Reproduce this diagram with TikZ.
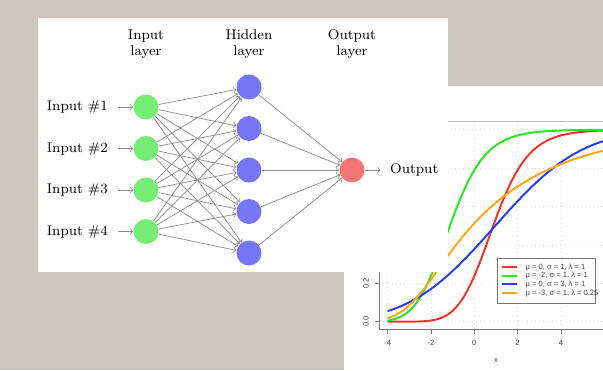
\documentclass[tikz,border=0pt]{standalone}
\usepackage{tikz}
\usepackage{xcolor}
\usepackage{amsmath}
\usepackage{fontspec}
\newfontfamily\plotfont{Liberation Sans}

\definecolor{bgtaupe}{RGB}{205,198,191}
\definecolor{nnin}{RGB}{118,238,118}
\definecolor{nnhid}{RGB}{118,118,245}
\definecolor{nnout}{RGB}{243,118,118}
\definecolor{edgegray}{RGB}{140,140,140}
\definecolor{gridgray}{RGB}{215,215,215}
\definecolor{axisgray}{RGB}{120,120,120}
\definecolor{framegray}{RGB}{190,190,190}
\definecolor{plotred}{RGB}{245,50,35}
\definecolor{plotgreen}{RGB}{40,230,30}
\definecolor{plotblue}{RGB}{35,60,250}
\definecolor{plotorange}{RGB}{255,165,20}

\pgfmathdeclarefunction{erfcs}{1}{%
	\begingroup
	\pgfmathsetmacro\myt{1/(1+0.5*#1)}%
	\pgfmathparse{\myt*exp(-1.26551223+\myt*(1.00002368+\myt*(0.37409196+\myt*(0.09678418+\myt*(-0.18628806+\myt*(0.27886807+\myt*(-1.13520398+\myt*(1.48851587+\myt*(-0.82215223+\myt*0.17087277)))))))))}%
	\pgfmathsmuggle\pgfmathresult
	\endgroup}
\pgfmathdeclarefunction{Phi}{1}{%
	\begingroup
	\pgfmathsetmacro\myq{#1}%
	\pgfmathsetmacro\myr{0.5*exp(max(-11,-0.5*(\myq)*(\myq)))*erfcs(abs(\myq)*0.70710678)}%
	\ifdim\myq pt<0pt\relax
		\pgfmathparse{\myr}%
	\else
		\pgfmathparse{1-\myr}%
	\fi
	\pgfmathsmuggle\pgfmathresult
	\endgroup}
\pgfmathdeclarefunction{emgcdf}{4}{%
	\begingroup
	\pgfmathsetmacro\myz{((#1)-(#2))/(#3)}%
	\pgfmathsetmacro\myv{(#4)*(#3)}%
	\pgfmathsetmacro\myw{\myv-(\myz)}%
	\pgfmathsetmacro\myk{0.5*exp(max(-11,-0.5*(\myz)*(\myz)))*erfcs(abs(\myw)*0.70710678)}%
	\ifdim\myw pt<0pt\relax
		\pgfmathsetmacro\myk{exp(max(-11,(\myv)*(0.5*(\myv)-(\myz))))-\myk}%
	\fi
	\pgfmathparse{Phi(\myz)-\myk}%
	\pgfmathsmuggle\pgfmathresult
	\endgroup}

\begin{document}
\begin{tikzpicture}[x=0.02cm, y=0.02cm]
	\tikzstyle{every node}+=[font=\footnotesize]
	\tikzstyle{inneuron}=[circle, fill=nnin, minimum size=0.5cm, inner sep=0pt]
	\tikzstyle{hidneuron}=[circle, fill=nnhid, minimum size=0.5cm, inner sep=0pt]
	\tikzstyle{outneuron}=[circle, fill=nnout, minimum size=0.5cm, inner sep=0pt]
	\tikzstyle{conn}=[->, draw=edgegray]
	\tikzstyle{curve}=[line width=1.1pt]
	\tikzstyle{plottext}=[font=\fontsize{4.3}{5}\plotfont, text=black!75]
	\fill [bgtaupe] (0,0) rectangle (603,-370);
	\useasboundingbox (0,0) rectangle (603,-370);
	\fill [white] (344,-86) rectangle (603,-370);
	\draw [gridgray, dotted] (379,-321.7) -- (603,-321.7);
	\draw [gridgray, dotted] (379,-283.3) -- (603,-283.3);
	\draw [gridgray, dotted] (379,-244.9) -- (603,-244.9);
	\draw [gridgray, dotted] (379,-206.5) -- (603,-206.5);
	\draw [gridgray, dotted] (379,-168.1) -- (603,-168.1);
	\draw [gridgray, dotted] (379,-129.7) -- (603,-129.7);
	\draw [gridgray, dotted] (387.7,-121.5) -- (387.7,-329);
	\draw [gridgray, dotted] (431,-121.5) -- (431,-329);
	\draw [gridgray, dotted] (474.3,-121.5) -- (474.3,-329);
	\draw [gridgray, dotted] (517.6,-121.5) -- (517.6,-329);
	\draw [gridgray, dotted] (560.9,-121.5) -- (560.9,-329);
	\draw [plotred, curve] plot [domain=-4:5.95, samples=90] ({474.3+21.65*\x},{-321.7+192*emgcdf(\x,0,1,1)});
	\draw [plotgreen, curve] plot [domain=-4:5.95, samples=90] ({474.3+21.65*\x},{-321.7+192*emgcdf(\x,-2,1,1)});
	\draw [plotblue, curve] plot [domain=-4:5.95, samples=90] ({474.3+21.65*\x},{-321.7+192*emgcdf(\x,0,3,1)});
	\draw [plotorange, curve] plot [domain=-4:5.95, samples=90] ({474.3+21.65*\x},{-321.7+192*emgcdf(\x,-3,1,0.25)});
	\draw [framegray, line width=0.7pt] (379,-121.5) -- (613,-121.5);
	\draw [axisgray] (379,-121.5) -- (379,-329) -- (613,-329);
	\draw [axisgray] (387.7,-329) -- (387.7,-333.5);
	\draw [axisgray] (431,-329) -- (431,-333.5);
	\draw [axisgray] (474.3,-329) -- (474.3,-333.5);
	\draw [axisgray] (517.6,-329) -- (517.6,-333.5);
	\draw [axisgray] (560.9,-329) -- (560.9,-333.5);
	\draw [axisgray] (379,-321.7) -- (374.5,-321.7);
	\draw [axisgray] (379,-283.3) -- (374.5,-283.3);
	\node [plottext] (xt1) at (387.7,-343) {-4};
	\node [plottext] (xt2) at (431,-343) {-2};
	\node [plottext] (xt3) at (474.3,-343) {0};
	\node [plottext] (xt4) at (517.6,-343) {2};
	\node [plottext] (xt5) at (560.9,-343) {4};
	\node [plottext, rotate=90] (yt1) at (366,-321.7) {0.0};
	\node [plottext, rotate=90] (yt2) at (366,-283.3) {0.2};
	\node [plottext] (xlab) at (496,-360) {x};
	\draw [axisgray, fill=white] (497,-258) rectangle (595,-303);
	\draw [plotred, curve] (502,-267) -- (517,-267);
	\draw [plotgreen, curve] (502,-275.7) -- (517,-275.7);
	\draw [plotblue, curve] (502,-284.4) -- (517,-284.4);
	\draw [plotorange, curve] (502,-293.1) -- (517,-293.1);
	\node [plottext, anchor=west] (leg1) at (519.5,-267) {μ = 0, σ = 1, λ = 1};
	\node [plottext, anchor=west] (leg2) at (519.5,-275.7) {μ = -2, σ = 1, λ = 1};
	\node [plottext, anchor=west] (leg3) at (519.5,-284.4) {μ = 0, σ = 3, λ = 1};
	\node [plottext, anchor=west] (leg4) at (519.5,-293.1) {μ = -3, σ = 1, λ = 0.25};
	\fill [white] (38,-18) rectangle (448,-272);
	\node [align=center] (inlay) at (146,-44) {Input\\layer};
	\node [align=center] (hidlay) at (249,-44) {Hidden\\layer};
	\node [align=center] (outlay) at (352,-44) {Output\\layer};
	\node [inneuron] (i1) at (146,-107) {};
	\node [inneuron] (i2) at (146,-148.5) {};
	\node [inneuron] (i3) at (146,-190) {};
	\node [inneuron] (i4) at (146,-231.5) {};
	\node [hidneuron] (h1) at (249,-87) {};
	\node [hidneuron] (h2) at (249,-128.5) {};
	\node [hidneuron] (h3) at (249,-170) {};
	\node [hidneuron] (h4) at (249,-211.5) {};
	\node [hidneuron] (h5) at (249,-253) {};
	\node [outneuron] (o) at (352,-170) {};
	\node [anchor=east] (x1) at (114,-107) {Input \#1};
	\node [anchor=east] (x2) at (114,-148.5) {Input \#2};
	\node [anchor=east] (x3) at (114,-190) {Input \#3};
	\node [anchor=east] (x4) at (114,-231.5) {Input \#4};
	\node [anchor=west] (y) at (384,-170) {Output};
	\draw [conn, shorten <=2pt] (x1) -- (i1);
	\draw [conn, shorten <=2pt] (x2) -- (i2);
	\draw [conn, shorten <=2pt] (x3) -- (i3);
	\draw [conn, shorten <=2pt] (x4) -- (i4);
	\draw [conn] (i1) -- (h1);
	\draw [conn] (i1) -- (h2);
	\draw [conn] (i1) -- (h3);
	\draw [conn] (i1) -- (h4);
	\draw [conn] (i1) -- (h5);
	\draw [conn] (i2) -- (h1);
	\draw [conn] (i2) -- (h2);
	\draw [conn] (i2) -- (h3);
	\draw [conn] (i2) -- (h4);
	\draw [conn] (i2) -- (h5);
	\draw [conn] (i3) -- (h1);
	\draw [conn] (i3) -- (h2);
	\draw [conn] (i3) -- (h3);
	\draw [conn] (i3) -- (h4);
	\draw [conn] (i3) -- (h5);
	\draw [conn] (i4) -- (h1);
	\draw [conn] (i4) -- (h2);
	\draw [conn] (i4) -- (h3);
	\draw [conn] (i4) -- (h4);
	\draw [conn] (i4) -- (h5);
	\draw [conn] (h1) -- (o);
	\draw [conn] (h2) -- (o);
	\draw [conn] (h3) -- (o);
	\draw [conn] (h4) -- (o);
	\draw [conn] (h5) -- (o);
	\draw [conn, shorten >=2pt] (o) -- (y);
\end{tikzpicture}
\end{document}
